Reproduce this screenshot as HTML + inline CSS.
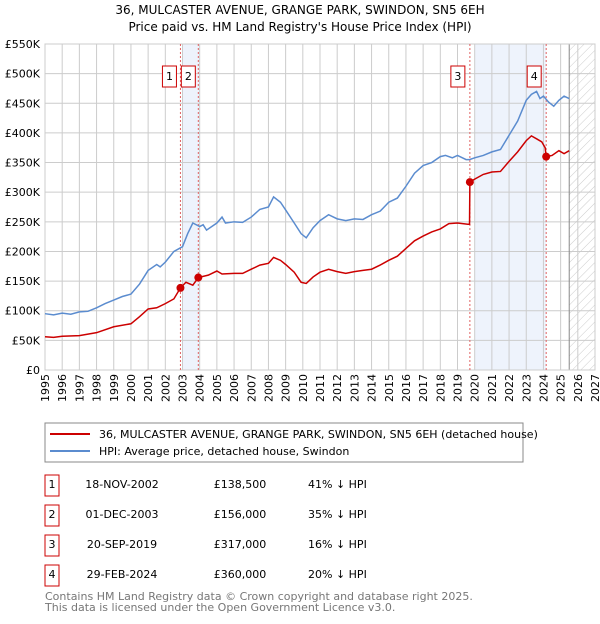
<!DOCTYPE html>
<html><head><meta charset="utf-8"><style>
body{margin:0;background:#fff;font-family:"DejaVu Sans","Liberation Sans",sans-serif;}
svg text{font-family:"DejaVu Sans","Liberation Sans",sans-serif;}
</style></head><body>
<svg id="c" width="600" height="620" xmlns="http://www.w3.org/2000/svg">
<defs><pattern id="hatch" width="6" height="6" patternUnits="userSpaceOnUse" patternTransform="rotate(45)"><line x1="0" y1="0" x2="0" y2="6" stroke="#ccc" stroke-width="1"/></pattern></defs>
<text x="300" y="14" text-anchor="middle" font-size="12">36, MULCASTER AVENUE, GRANGE PARK, SWINDON, SN5 6EH</text>
<text x="300" y="31" text-anchor="middle" font-size="12">Price paid vs. HM Land Registry's House Price Index (HPI)</text>
<g id="plot"></g>
<rect x="45" y="423" width="478" height="39" fill="#fff" stroke="#888"/>
<line x1="50" y1="434" x2="90" y2="434" stroke="#cc0000" stroke-width="2"/>
<text x="99" y="438" font-size="11">36, MULCASTER AVENUE, GRANGE PARK, SWINDON, SN5 6EH (detached house)</text>
<line x1="50" y1="451" x2="90" y2="451" stroke="#5b8ccf" stroke-width="2"/>
<text x="99" y="455" font-size="11">HPI: Average price, detached house, Swindon</text>
<g id="table" font-size="11"></g>
<text x="45" y="600" font-size="11" fill="#777">Contains HM Land Registry data © Crown copyright and database right 2025.</text>
<text x="45" y="611" font-size="11" fill="#777">This data is licensed under the Open Government Licence v3.0.</text>
</svg>
<script>
const yearTicks=[1995,1996,1997,1998,1999,2000,2001,2002,2003,2004,2005,2006,2007,2008,2009,2010,2011,2012,2013,2014,2015,2016,2017,2018,2019,2020,2021,2022,2023,2024,2025,2026,2027];
const priceTicks=[0,50,100,150,200,250,300,350,400,450,500,550];
const priceTickLabels=["£0","£50K","£100K","£150K","£200K","£250K","£300K","£350K","£400K","£450K","£500K","£550K"];
const hpiYears=[1995,1995.5,1996,1996.5,1997,1997.5,1998,1998.5,1999,1999.5,2000,2000.5,2001,2001.5,2001.7,2002,2002.5,2003,2003.3,2003.6,2004,2004.2,2004.4,2005,2005.3,2005.5,2006,2006.5,2007,2007.5,2008,2008.3,2008.7,2009,2009.5,2009.9,2010.2,2010.6,2011,2011.5,2012,2012.5,2013,2013.5,2014,2014.5,2015,2015.5,2016,2016.5,2017,2017.5,2018,2018.3,2018.7,2019,2019.5,2019.7,2020,2020.5,2021,2021.5,2022,2022.5,2023,2023.3,2023.6,2023.8,2024,2024.3,2024.6,2024.9,2025.2,2025.5];
const hpiValues=[95,93,96,94,98,99,105,112,118,124,128,145,168,178,174,182,200,208,230,248,242,245,236,248,258,248,250,249,258,271,275,292,283,270,248,230,223,240,252,262,255,252,255,254,262,268,283,290,310,332,345,350,360,362,358,362,355,355,358,362,368,372,396,420,455,465,470,458,462,452,445,455,462,458];
const propYears=[1995,1995.5,1996,1997,1998,1999,2000,2000.5,2001,2001.5,2002,2002.5,2002.88,2003.2,2003.6,2003.92,2004.5,2005,2005.3,2006,2006.5,2007,2007.5,2008,2008.3,2008.7,2009,2009.5,2009.9,2010.2,2010.6,2011,2011.5,2012,2012.5,2013,2013.5,2014,2014.5,2015,2015.5,2016,2016.5,2017,2017.5,2018,2018.5,2019,2019.6,2019.7,2019.72,2020,2020.5,2021,2021.5,2022,2022.5,2023,2023.3,2023.6,2023.9,2024.1,2024.16,2024.5,2024.9,2025.2,2025.5];
const propValues=[56,55,57,58,63,73,78,90,103,105,112,120,138.5,148,143,156,160,167,162,163,163,170,177,180,190,185,178,165,148,146,157,165,170,166,163,166,168,170,177,185,192,205,218,226,233,238,247,248,246,246,317,322,330,334,335,352,368,387,395,390,385,375,360,362,370,365,370];
const saleIds=["1","2","3","4"];
const saleYears=[2002.88,2003.92,2019.72,2024.16];
const salePrices=[138.5,156,317,360];
const saleDates=["18-NOV-2002","01-DEC-2003","20-SEP-2019","29-FEB-2024"];
const salePriceLabels=["£138,500","£156,000","£317,000","£360,000"];
const saleDiffs=["41% ↓ HPI","35% ↓ HPI","16% ↓ HPI","20% ↓ HPI"];
const badgeOffsets=[-11,-10,-12,-12];

const X0=45,X1=595,Y0=370,Y1=44;
const xs=y=>X0+(y-1995)/(2027-1995)*(X1-X0);
const ys=v=>Y0-v/550*(Y0-Y1);
const NS="http://www.w3.org/2000/svg";
const plot=document.getElementById('plot');
function mk(tag,attrs,parent){const e=document.createElementNS(NS,tag);for(const k in attrs)e.setAttribute(k,attrs[k]);(parent||plot).appendChild(e);return e;}

let r=mk('rect',{x:xs(2003),y:Y1,width:xs(2004)-xs(2003),height:Y0-Y1,fill:'#eef3fc'});


r=mk('rect',{x:xs(2020),y:Y1,width:xs(2024.16)-xs(2020),height:Y0-Y1,fill:'#eef3fc'});


r=mk('rect',{x:xs(2025.5),y:Y1,width:X1-xs(2025.5),height:Y0-Y1,fill:'url(#hatch)'});



yearTicks.forEach(y=>{
  const l=mk('line',{x1:xs(y),x2:xs(y),y1:Y1,y2:Y0,stroke:'#ccc'});
  
  
  const t=mk('text',{x:0,y:0,'font-size':11,'text-anchor':'end',transform:`translate(${xs(y)+4},${Y0+4}) rotate(-90)`});
  t.textContent=y;
  
  
});
priceTicks.forEach((v,i)=>{
  const l=mk('line',{x1:X0,x2:X1,y1:ys(v),y2:ys(v),stroke:'#ccc'});
  
  
  const t=mk('text',{x:40,y:ys(v)+4,'font-size':11,'text-anchor':'end'});
  t.textContent=priceTickLabels[i];
  
  
});
const ln=mk('line',{x1:xs(2025.5),x2:xs(2025.5),y1:Y1,y2:Y0,stroke:'#888'});


const border=mk('rect',{x:X0,y:Y1,width:X1-X0,height:Y0-Y1,fill:'none',stroke:'#ccc'});



saleYears.forEach((y,i)=>{
  const l=mk('line',{x1:xs(y),x2:xs(y),y1:Y1,y2:Y0,stroke:'#e06060','stroke-dasharray':'2,2'});
  
  
});

const hp=mk('polyline',{points:hpiYears.map((y,i)=>xs(y)+','+ys(hpiValues[i])).join(' '),fill:'none',stroke:'#5b8ccf','stroke-width':1.5});


const pp=mk('polyline',{points:propYears.map((y,i)=>xs(y)+','+ys(propValues[i])).join(' '),fill:'none',stroke:'#cc0000','stroke-width':1.5});



saleYears.forEach((y,i)=>{
  const c=mk('circle',{cx:xs(y),cy:ys(salePrices[i]),r:4,fill:'#cc0000'});
  
  
  const bx=xs(y)+badgeOffsets[i];
  const b=mk('rect',{x:bx-7,y:66,width:14,height:21,fill:'#fff',stroke:'#cc0000'});
  
  
  const t=mk('text',{x:bx,y:80,'font-size':11,'text-anchor':'middle'});
  t.textContent=saleIds[i];
  
  
});

const tb=document.getElementById('table');
saleIds.forEach((id,i)=>{
  const yy=485+i*30;
  const b=mk('rect',{x:45,y:yy-10,width:14,height:21,fill:'#fff',stroke:'#cc0000'},tb);
  
  
  const cells=[[52,id,'middle'],[122,saleDates[i],'middle'],[240,salePriceLabels[i],'middle'],[308,saleDiffs[i],'start']];
  const names=['table-index','table-date','table-price','table-hpi-diff'];
  cells.forEach((c,j)=>{
    const t=mk('text',{x:c[0],y:yy+3,'text-anchor':c[2]},tb);
    t.textContent=c[1];
    
    
  });
});
</script>
</body></html>
